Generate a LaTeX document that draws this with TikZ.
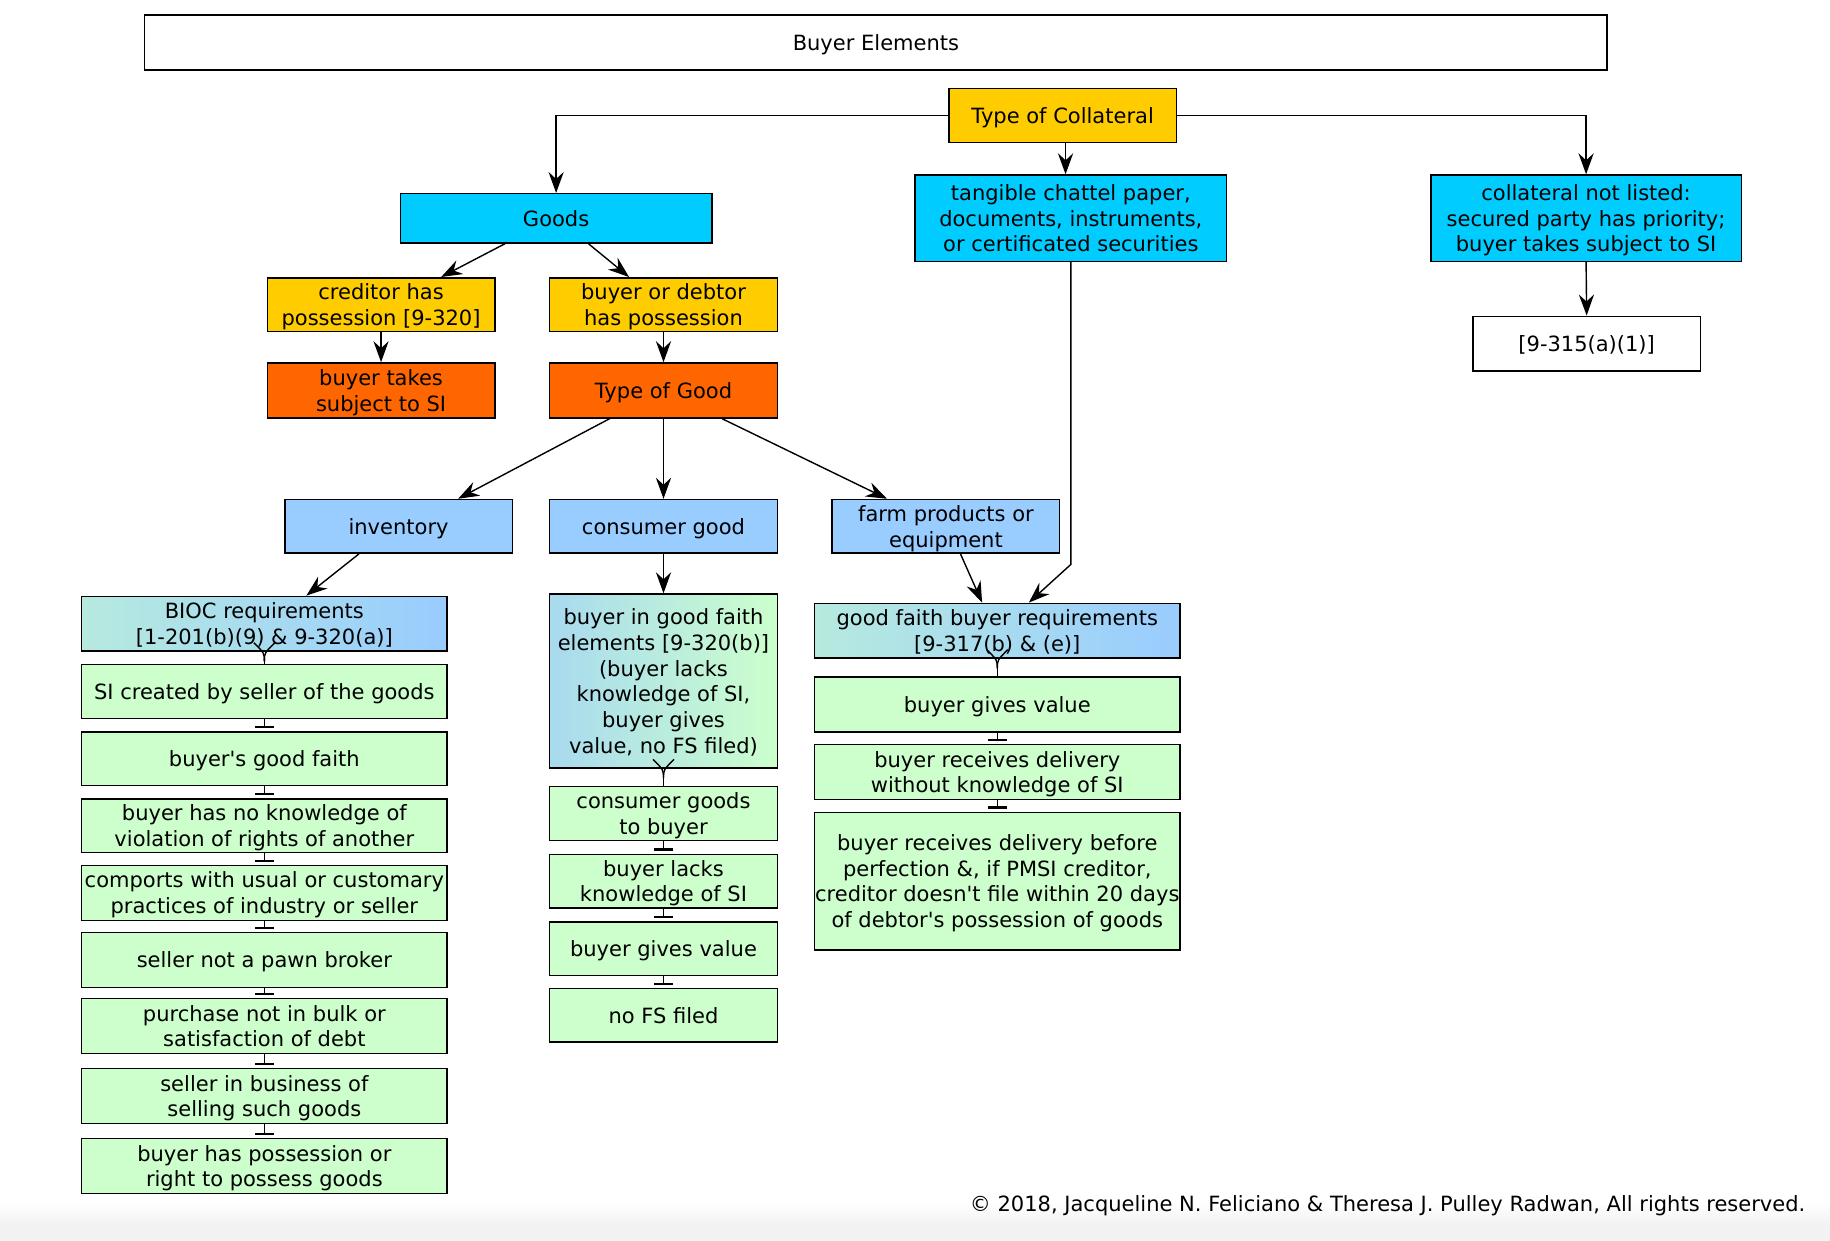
\documentclass[tikz,border=0pt]{standalone}
\usepackage{fontspec}
\setmainfont{DejaVu Sans}
\usetikzlibrary{arrows.meta,calc}
\definecolor{cgold}{HTML}{FFCC00}
\definecolor{ccyan}{HTML}{00CCFF}
\definecolor{corange}{HTML}{FF6600}
\definecolor{clblue}{HTML}{99CCFF}
\definecolor{cgreen}{HTML}{CCFFCC}
\definecolor{cmint}{HTML}{B6EADF}
\definecolor{cskyl}{HTML}{A8DAF0}
\definecolor{cband}{HTML}{F2F2F2}
\newcommand\barlink[2]{%
  \draw[conn] (#1.south) -- ($(#2.north)+(0,-3.5)$);
  \draw[conn,line width=1.8pt] ($(#2.north)+(-8,-3.5)$) -- ($(#2.north)+(8,-3.5)$);}
\newcommand\footlink[2]{%
  \draw[conn] ($(#1.south)+(0,8)$) -- (#2.north);
  \draw[conn] ($(#1.south)+(0,8)$) .. controls ($(#1.south)+(0,1)$) .. ($(#1.south)+(-9,-8)$);
  \draw[conn] ($(#1.south)+(0,8)$) .. controls ($(#1.south)+(0,1)$) .. ($(#1.south)+(9,-8)$);}
\newcommand\apos{\textquotesingle}
\begin{document}
\begin{tikzpicture}[x=1pt,y=-1pt,
  box/.style={draw=black,line width=1.3pt,inner sep=0pt,align=center,
    font=\fontsize{18}{22}\selectfont,text=black,text depth=0pt},
  wbox/.style={box,fill=white,minimum width=195pt,minimum height=46pt},
  sbox/.style={box,minimum width=195pt,minimum height=46pt},
  lbox/.style={box,fill=cgreen,minimum width=313pt,minimum height=46pt},
  gbox/.style={box,fill=cgreen,minimum width=195pt,minimum height=46pt},
  conn/.style={line width=1.2pt,draw=black},
  arr/.style={conn,-{Stealth[length=18pt,width=13pt,inset=6pt]}}]
\useasboundingbox (0,0) rectangle (1568,1063);
\shade[top color=white,bottom color=cband] (0,1030) rectangle (1568,1050);
\fill[cband] (0,1050) rectangle (1568,1063);
% top level
\node[box,fill=white,minimum width=1253pt,minimum height=47pt] (title) at (750.5,36.5) {Buyer Elements};
\node[sbox,fill=cgold] (toc) at (910.5,99) {Type of Collateral};
\node[box,fill=ccyan,minimum width=267pt,minimum height=42pt] (goods) at (476.5,187) {Goods};
\node[box,fill=ccyan,minimum width=267pt,minimum height=74pt] (tang) at (917.5,187) {tangible chattel paper,\\documents, instruments,\\or certificated securities};
\node[box,fill=ccyan,minimum width=266pt,minimum height=74pt] (notl) at (1359,187) {collateral not listed:\\secured party has priority;\\buyer takes subject to SI};
\node[wbox,minimum height=47pt] (ref) at (1359.5,294.5) {[9-315(a)(1)]};
\node[sbox,fill=cgold] (cred) at (326.5,261) {creditor has\\possession [9-320]};
\node[sbox,fill=cgold] (debt) at (568.5,261) {buyer or debtor\\has possession};
\node[sbox,fill=corange,minimum height=47pt] (subj) at (326.5,334.5) {buyer takes\\subject to SI};
\node[sbox,fill=corange,minimum height=47pt] (tog) at (568.5,334.5) {Type of Good};
\node[sbox,fill=clblue] (inv) at (341.5,451) {inventory};
\node[sbox,fill=clblue] (cons) at (568.5,451) {consumer good};
\node[sbox,fill=clblue] (farm) at (810.5,451) {farm products or\\equipment};
% left column
\node[box,left color=cmint,middle color=cgreen,right color=clblue,minimum width=313pt,minimum height=47pt] (bioc) at (226.5,534.5) {BIOC requirements\\{}[1-201(b)(9) \& 9-320(a)]};
\node[lbox] (l1) at (226.5,592.5) {SI created by seller of the goods};
\node[lbox] (l2) at (226.5,650) {buyer\apos{}s good faith};
\node[lbox] (l3) at (226.5,707.5) {buyer has no knowledge of\\violation of rights of another};
\node[lbox,minimum height=47pt] (l4) at (226.5,765) {comports with usual or customary\\practices of industry or seller};
\node[lbox,minimum height=47pt] (l5) at (226.5,822.5) {seller not a pawn broker};
\node[lbox,minimum height=47pt] (l6) at (226.5,879) {purchase not in bulk or\\satisfaction of debt};
\node[lbox,minimum height=47pt] (l7) at (226.5,939) {seller in business of\\selling such goods};
\node[lbox,minimum height=47pt] (l8) at (226.5,999) {buyer has possession or\\right to possess goods};
% middle column
\node[box,left color=cskyl,middle color=clblue,right color=cgreen,minimum width=195pt,minimum height=149pt] (bif) at (568.5,583.5) {buyer in good faith\\elements [9-320(b)]\\(buyer lacks\\knowledge of SI,\\buyer gives\\value, no FS filed)};
\node[gbox] (m1) at (568.5,697) {consumer goods\\to buyer};
\node[gbox] (m2) at (568.5,755) {buyer lacks\\knowledge of SI};
\node[gbox] (m3) at (568.5,813) {buyer gives value};
\node[gbox] (m4) at (568.5,870) {no FS filed};
% right column
\node[box,left color=cmint,middle color=cgreen,right color=clblue,minimum width=313pt,minimum height=47pt] (gfb) at (854.5,540.5) {good faith buyer requirements\\{}[9-317(b) \& (e)]};
\node[lbox,minimum height=47pt] (r1) at (854.5,603.5) {buyer gives value};
\node[lbox,minimum height=47pt] (r2) at (854.5,661.5) {buyer receives delivery\\without knowledge of SI};
\node[lbox,minimum height=118pt] (r3) at (854.5,755) {buyer receives delivery before\\perfection \&, if PMSI creditor,\\creditor doesn\apos{}t file within 20 days\\of debtor\apos{}s possession of goods};
% footer
\node[anchor=east,inner sep=0pt,font=\fontsize{18}{22}\selectfont] (foot) at (1547,1033) {© 2018, Jacqueline N. Feliciano \& Theresa J. Pulley Radwan, All rights reserved.};
% arrows
\draw[arr] (toc.west) -| (goods.north);
\draw[arr] ([xshift=2.5pt]toc.south) -- ([xshift=-4.5pt]tang.north);
\draw[arr] (toc.east) -| (notl.north);
\draw[arr] (notl.south) -- (ref.north);
\draw[arr] ([xshift=-43.5pt]goods.south) -- ([xshift=51.5pt]cred.north);
\draw[arr] ([xshift=27.5pt]goods.south) -- ([xshift=-29.5pt]debt.north);
\draw[arr] (cred.south) -- (subj.north);
\draw[arr] (debt.south) -- (tog.north);
\draw[arr] ([xshift=-46pt]tog.south) -- ([xshift=51pt]inv.north);
\draw[arr] (tog.south) -- (cons.north);
\draw[arr] ([xshift=50pt]tog.south) -- ([xshift=-50.5pt]farm.north);
\draw[arr] ([xshift=-34pt]inv.south) -- ([xshift=36pt]bioc.north);
\draw[arr] (cons.south) -- (bif.north);
\draw[arr] ([xshift=12.5pt]farm.south) -- ([xshift=-13pt]gfb.north);
\coordinate (bend) at ($(tang.south)+(0,259)$);
\draw[arr] (tang.south) -- (bend) -- ([xshift=27pt]gfb.north);
% chains
\footlink{bioc}{l1}
\barlink{l1}{l2}
\barlink{l2}{l3}
\barlink{l3}{l4}
\barlink{l4}{l5}
\barlink{l5}{l6}
\barlink{l6}{l7}
\barlink{l7}{l8}
\footlink{bif}{m1}
\barlink{m1}{m2}
\barlink{m2}{m3}
\barlink{m3}{m4}
\footlink{gfb}{r1}
\barlink{r1}{r2}
\barlink{r2}{r3}
\end{tikzpicture}
\end{document}
